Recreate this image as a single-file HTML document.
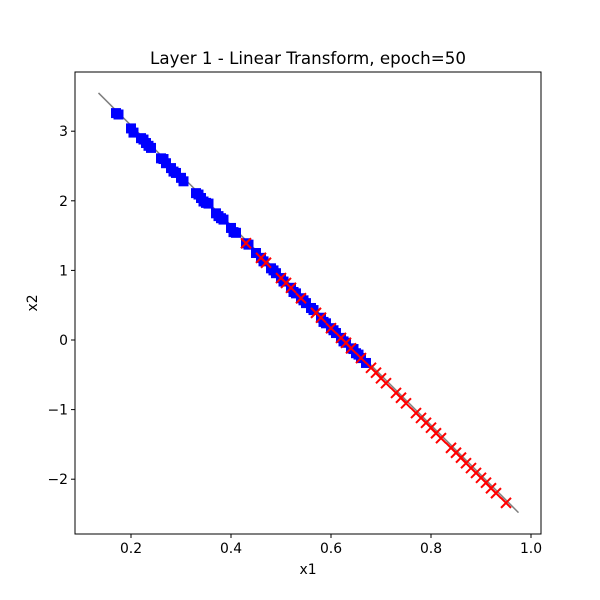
<!DOCTYPE html>
<html><head><meta charset="utf-8"><style>
body{margin:0;background:#fff}
svg{display:block;font-family:"DejaVu Sans","Liberation Sans",sans-serif}
</style></head><body>
<svg id="chart" width="600" height="600" xmlns="http://www.w3.org/2000/svg"></svg>
<script>
const blueX=[0.17,0.175,0.20,0.205,0.22,0.225,0.23,0.235,0.24,0.26,0.265,0.27,0.28,0.285,0.29,0.30,0.305,0.33,0.335,0.34,0.345,0.35,0.355,0.37,0.375,0.38,0.385,0.40,0.405,0.41,0.43,0.435,0.45,0.46,0.465,0.48,0.485,0.49,0.50,0.505,0.52,0.525,0.53,0.54,0.545,0.55,0.56,0.565,0.58,0.585,0.59,0.60,0.605,0.61,0.62,0.625,0.63,0.64,0.645,0.65,0.655,0.66,0.67];
const blueY=[3.26,3.24,3.04,2.98,2.90,2.88,2.83,2.79,2.76,2.61,2.60,2.54,2.47,2.42,2.40,2.33,2.28,2.11,2.09,2.04,1.99,1.97,1.96,1.82,1.78,1.75,1.73,1.61,1.55,1.54,1.39,1.37,1.25,1.18,1.13,1.03,1.00,0.96,0.89,0.84,0.75,0.69,0.67,0.60,0.57,0.53,0.46,0.43,0.32,0.26,0.24,0.17,0.14,0.10,0.03,-0.02,-0.04,-0.12,-0.13,-0.19,-0.21,-0.26,-0.33];
const redX=[0.43,0.46,0.47,0.50,0.51,0.52,0.54,0.57,0.58,0.60,0.62,0.63,0.64,0.66,0.68,0.69,0.70,0.71,0.73,0.74,0.75,0.77,0.78,0.79,0.80,0.81,0.82,0.84,0.85,0.86,0.87,0.88,0.89,0.90,0.91,0.92,0.93,0.95];
const redY=[1.39,1.18,1.11,0.89,0.82,0.75,0.60,0.39,0.32,0.17,0.03,-0.04,-0.12,-0.26,-0.40,-0.47,-0.55,-0.62,-0.76,-0.83,-0.91,-1.05,-1.12,-1.19,-1.26,-1.34,-1.41,-1.55,-1.62,-1.69,-1.77,-1.84,-1.91,-1.98,-2.05,-2.13,-2.20,-2.34];
const lineX=[0.135,0.975];
const lineY=[3.55,-2.48];
const xTicks=[0.2,0.4,0.6,0.8,1.0];
const xTickLabels=["0.2","0.4","0.6","0.8","1.0"];
const yTicks=[-2,-1,0,1,2,3];
const yTickLabels=["\u22122","\u22121","0","1","2","3"];

const L=75,R=541,T=72,B=534;
const sx=v=>31+v*500;
const sy=v=>340-v*69.6;
const svg=document.getElementById('chart');
const NS="http://www.w3.org/2000/svg";
function mk(tag,attrs,parent){const e=document.createElementNS(NS,tag);for(const k in attrs)e.setAttribute(k,attrs[k]);(parent||svg).appendChild(e);return e;}

const title=mk('text',{x:(L+R)/2,y:64,'text-anchor':'middle','font-size':16.7,fill:'#000'});


title.textContent='Layer 1 - Linear Transform, epoch=50';

const gl=mk('line',{x1:sx(lineX[0]),y1:sy(lineY[0]),x2:sx(lineX[1]),y2:sy(lineY[1]),stroke:'#7f7f7f','stroke-width':1.5});



const gb=mk('g',{});


for(let i=0;i<blueX.length;i++){
  const r=mk('rect',{x:sx(blueX[i])-5,y:sy(blueY[i])-5,width:10,height:10,fill:'#0000ff'},gb);
  
  
}
const gr=mk('g',{});


for(let i=0;i<redX.length;i++){
  const cx=sx(redX[i]),cy=sy(redY[i]),s=5;
  const p=mk('path',{d:`M${cx-s},${cy-s}L${cx+s},${cy+s}M${cx-s},${cy+s}L${cx+s},${cy-s}`,stroke:'#ff0000','stroke-width':2,fill:'none'},gr);
  
  
}

const frame=mk('rect',{x:L,y:T,width:R-L,height:B-T,fill:'none',stroke:'#000','stroke-width':1});



xTicks.forEach((v,i)=>{
  const x=sx(v);
  const t=mk('line',{x1:x,y1:B,x2:x,y2:B+4,stroke:'#000'});
  
  
  const l=mk('text',{x:x,y:B+19,'text-anchor':'middle','font-size':13.9});
  
  
  l.textContent=xTickLabels[i];
});
yTicks.forEach((v,i)=>{
  const y=sy(v);
  const t=mk('line',{x1:L-4,y1:y,x2:L,y2:y,stroke:'#000'});
  
  
  const l=mk('text',{x:L-7,y:y+5,'text-anchor':'end','font-size':13.9});
  
  
  l.textContent=yTickLabels[i];
});
const xl=mk('text',{x:(L+R)/2,y:574,'text-anchor':'middle','font-size':13.9});


xl.textContent='x1';
const yl=mk('text',{x:37,y:(T+B)/2,'text-anchor':'middle','font-size':13.9,transform:`rotate(-90 37 ${(T+B)/2})`});


yl.textContent='x2';
</script>
</body></html>
